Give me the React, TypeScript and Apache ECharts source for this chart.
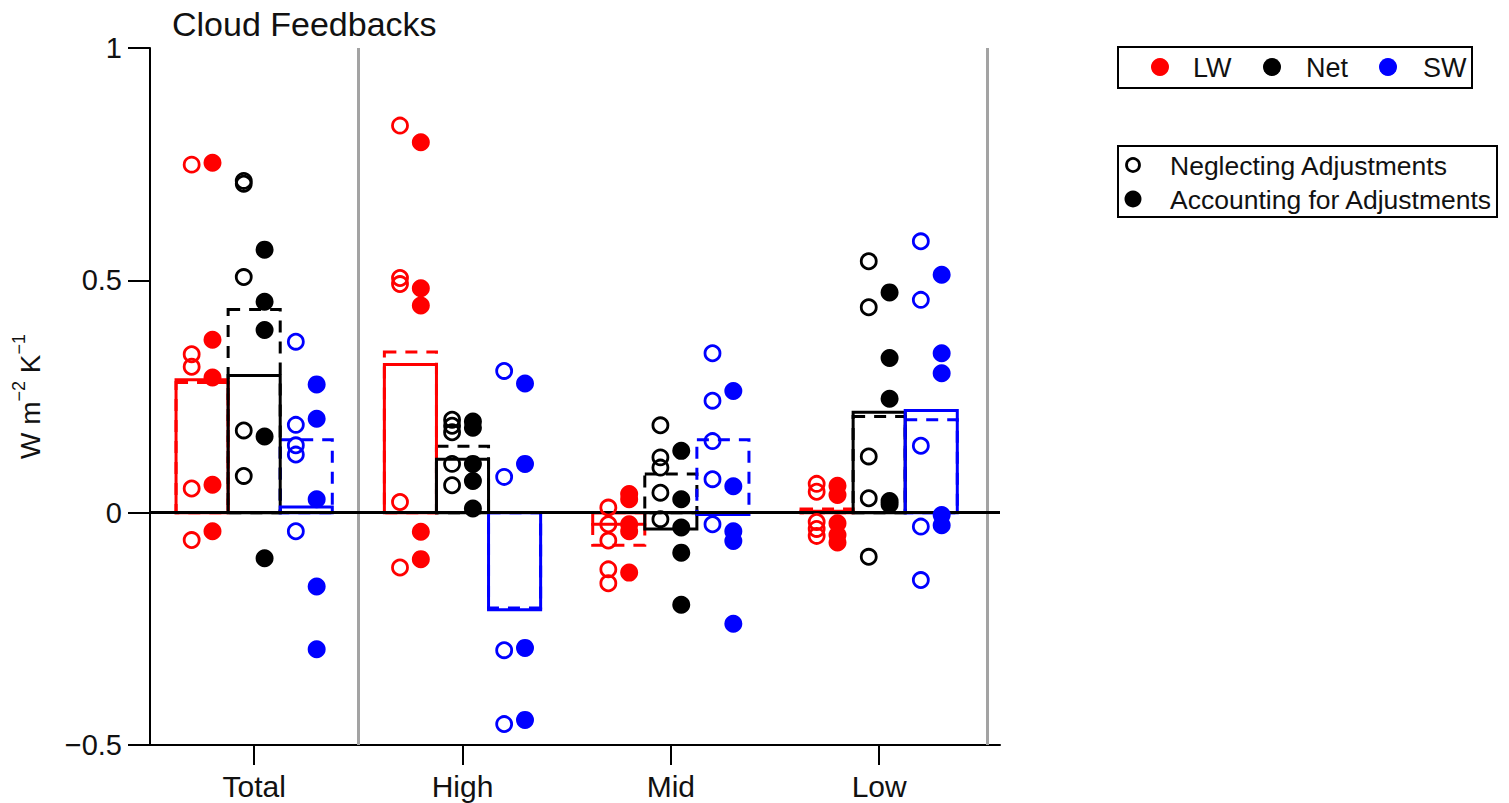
import React, { useEffect, useRef } from "react";
import * as echarts from "echarts";

const groups = ["Total", "High", "Mid", "Low"];
const components = ["LW", "Net", "SW"];

// Individual model values: "Neglecting Adjustments" (open) and "Accounting for Adjustments" (filled)
const lwNeglect = [
  [0.749, 0.341, 0.314, 0.052, -0.059],
  [0.833, 0.505, 0.492, 0.023, -0.118],
  [0.011, -0.025, -0.06, -0.122, -0.152],
  [0.062, 0.045, -0.02, -0.035, -0.05],
];
const lwAccount = [
  [0.753, 0.372, 0.291, 0.06, -0.04],
  [0.797, 0.483, 0.446, -0.041, -0.1],
  [0.04, 0.029, -0.025, -0.04, -0.129],
  [0.058, 0.038, -0.023, -0.048, -0.064],
];
const netNeglect = [
  [0.714, 0.708, 0.507, 0.177, 0.079],
  [0.2, 0.187, 0.173, 0.105, 0.059],
  [0.188, 0.119, 0.097, 0.043, -0.014],
  [0.541, 0.442, 0.121, 0.031, -0.095],
];
const netAccount = [
  [0.566, 0.454, 0.393, 0.164, -0.098],
  [0.196, 0.183, 0.105, 0.068, 0.009],
  [0.133, 0.029, -0.032, -0.086, -0.198],
  [0.474, 0.333, 0.245, 0.025, 0.018],
];
const swNeglect = [
  [0.368, 0.189, 0.145, 0.125, -0.04],
  [0.305, 0.077, -0.296, -0.455],
  [0.343, 0.241, 0.154, 0.072, -0.025],
  [0.584, 0.458, 0.144, -0.03, -0.145],
];
const swAccount = [
  [0.276, 0.202, 0.029, -0.159, -0.294],
  [0.278, 0.105, -0.291, -0.446],
  [0.262, 0.057, -0.04, -0.061, -0.239],
  [0.512, 0.343, 0.3, -0.005, -0.027],
];

// Multi-model means: dashed = neglecting, solid = accounting
const lwBarNeglect = [0.28, 0.346, -0.07, 0.008];
const lwBarAccount = [0.286, 0.319, -0.025, 0.003];
const netBarNeglect = [0.437, 0.143, 0.083, 0.207];
const netBarAccount = [0.295, 0.115, -0.035, 0.216];
const swBarNeglect = [0.157, -0.205, 0.157, 0.2];
const swBarAccount = [0.012, -0.209, -0.004, 0.22];

const yTicks = [-0.5, 0, 0.5, 1];
const separators = [0.5, 3.515];

const FONT = "Liberation Sans, Arial, Helvetica, sans-serif";
const COLORS = ["#ff0000", "#000000", "#0000ff"];
const OFFSETS = [-0.25, 0, 0.25];
const BAR_HALF = 0.125;
const DOT_OFF = 0.05;

const compData = [
  { neglect: lwNeglect, account: lwAccount, barN: lwBarNeglect, barA: lwBarAccount },
  { neglect: netNeglect, account: netAccount, barN: netBarNeglect, barA: netBarAccount },
  { neglect: swNeglect, account: swAccount, barN: swBarNeglect, barA: swBarAccount },
];

function barSeries(name: string, data: number[][], color: string, dashed: boolean, z: number) {
  return {
    type: "custom",
    name,
    z,
    silent: true,
    data,
    encode: { x: 0, y: 1 },
    renderItem: (params: any, api: any) => {
      const x = api.value(0);
      const v = api.value(1);
      const p0 = api.coord([x - BAR_HALF, 0]);
      const p1 = api.coord([x + BAR_HALF, v]);
      const left = Math.min(p0[0], p1[0]);
      const top = Math.min(p0[1], p1[1]);
      return {
        type: "rect",
        shape: {
          x: left,
          y: top,
          width: Math.abs(p1[0] - p0[0]),
          height: Math.max(Math.abs(p1[1] - p0[1]), 0.5),
        },
        style: {
          fill: "none",
          stroke: color,
          lineWidth: 3,
          lineDash: dashed ? [12, 9] : null,
        },
      };
    },
  };
}

export default function App() {
  const ref = useRef<HTMLDivElement>(null);

  useEffect(() => {
    if (!ref.current) return;
    const chart = echarts.init(ref.current, null, { renderer: "svg" });

    const series: any[] = [];

    series.push({
      type: "scatter",
      name: "separators",
      data: [],
      z: 1,
      markLine: {
        silent: true,
        symbol: "none",
        label: { show: false },
        lineStyle: { color: "#a3a3a3", width: 3, type: "solid" },
        data: separators.map((s) => ({ xAxis: s })),
      },
    });

    compData.forEach((c, ci) => {
      const off = OFFSETS[ci];
      series.push(
        barSeries(
          components[ci] + " neglect mean",
          groups.map((_, gi) => [gi + off, c.barN[gi]]),
          COLORS[ci],
          true,
          2
        )
      );
      series.push(
        barSeries(
          components[ci] + " account mean",
          groups.map((_, gi) => [gi + off, c.barA[gi]]),
          COLORS[ci],
          false,
          3
        )
      );
    });

    series.push({
      type: "scatter",
      name: "zero",
      data: [],
      z: 4,
      markLine: {
        silent: true,
        symbol: "none",
        label: { show: false },
        lineStyle: { color: "#000", width: 3, type: "solid" },
        data: [{ yAxis: 0 }],
      },
    });

    compData.forEach((c, ci) => {
      const off = OFFSETS[ci];
      const openPts: number[][] = [];
      const fillPts: number[][] = [];
      groups.forEach((_, gi) => {
        c.neglect[gi].forEach((v) => openPts.push([gi + off - DOT_OFF, v]));
        c.account[gi].forEach((v) => fillPts.push([gi + off + DOT_OFF, v]));
      });
      series.push({
        type: "scatter",
        name: components[ci] + " neglecting",
        z: 5,
        symbol: "circle",
        symbolSize: 15,
        itemStyle: { color: "rgba(0,0,0,0)", borderColor: COLORS[ci], borderWidth: 2.8, opacity: 1 },
        data: openPts,
      });
      series.push({
        type: "scatter",
        name: components[ci] + " accounting",
        z: 5,
        symbol: "circle",
        symbolSize: 18,
        itemStyle: { color: COLORS[ci], opacity: 1 },
        data: fillPts,
      });
    });

    const legendGraphics: any[] = [
      {
        type: "rect",
        shape: { x: 1118, y: 47, width: 354, height: 41 },
        style: { fill: "none", stroke: "#000", lineWidth: 2 },
      },
      ...components.map((name, i) => {
        const cx = [1160, 1272, 1388][i];
        return {
          type: "circle",
          shape: { cx, cy: 67, r: 9 },
          style: { fill: COLORS[i] },
        };
      }),
      ...components.map((name, i) => ({
        type: "text",
        x: [1193, 1306, 1423][i],
        y: 68,
        style: {
          text: name,
          fontSize: 27,
          fontFamily: FONT,
          fill: "#111",
          verticalAlign: "middle",
        },
      })),
      {
        type: "rect",
        shape: { x: 1118, y: 146, width: 379, height: 71 },
        style: { fill: "none", stroke: "#000", lineWidth: 2 },
      },
      {
        type: "circle",
        shape: { cx: 1133, cy: 165, r: 6.5 },
        style: { fill: "none", stroke: "#000", lineWidth: 2.8 },
      },
      {
        type: "circle",
        shape: { cx: 1133, cy: 199, r: 8.5 },
        style: { fill: "#000" },
      },
      {
        type: "text",
        x: 1170,
        y: 166,
        style: {
          text: "Neglecting Adjustments",
          fontSize: 26.5,
          fontFamily: FONT,
          fill: "#111",
          verticalAlign: "middle",
        },
      },
      {
        type: "text",
        x: 1170,
        y: 200,
        style: {
          text: "Accounting for Adjustments",
          fontSize: 26.5,
          fontFamily: FONT,
          fill: "#111",
          verticalAlign: "middle",
        },
      },
    ];

    chart.setOption({
      animation: false,
      backgroundColor: "#fff",
      textStyle: { fontFamily: FONT },
      title: {
        text: "Cloud Feedbacks",
        left: 172,
        top: 7,
        padding: 0,
        textStyle: { fontSize: 34, fontWeight: "normal", color: "#111", fontFamily: FONT },
      },
      grid: { left: 150, right: 509, top: 48, bottom: 58 },
      xAxis: {
        type: "value",
        min: -0.5,
        max: 3.58,
        splitLine: { show: false },
        axisLine: { onZero: false, lineStyle: { color: "#000", width: 2 } },
        axisTick: {
          show: true,
          customValues: [0, 1, 2, 3],
          length: 20,
          lineStyle: { color: "#000", width: 2 },
        },
        axisLabel: {
          customValues: [0, 1, 2, 3],
          formatter: (v: number) => groups[Math.round(v)] ?? "",
          fontSize: 30,
          color: "#111",
          margin: 26,
          fontFamily: FONT,
        },
      },
      yAxis: {
        type: "value",
        min: -0.5,
        max: 1,
        interval: 0.5,
        splitLine: { show: false },
        axisLine: { show: true, onZero: false, lineStyle: { color: "#000", width: 2 } },
        axisTick: { show: true, length: 22, lineStyle: { color: "#000", width: 2 } },
        axisLabel: {
          customValues: yTicks,
          formatter: (v: number) => String(v).replace("-", "\u2212"),
          fontSize: 29,
          color: "#111",
          margin: 28,
          fontFamily: FONT,
        },
        name: "{a|W m}{b|\u22122}{a| K}{b|\u22121}",
        nameLocation: "middle",
        nameGap: 106,
        nameRotate: 90,
        nameTextStyle: {
          fontFamily: FONT,
          color: "#111",
          rich: {
            a: { fontSize: 28, fontFamily: FONT, color: "#111", verticalAlign: "bottom", lineHeight: 34 },
            b: { fontSize: 18, fontFamily: FONT, color: "#111", verticalAlign: "top", lineHeight: 34, padding: [0, 0, 12, 0] },
          },
        },
      },
      graphic: legendGraphics,
      series,
    });

    return () => chart.dispose();
  }, []);

  return (
    <div
      ref={ref}
      style={{ position: "fixed", left: 0, top: 0, width: 1509, height: 803, background: "#fff" }}
    />
  );
}
